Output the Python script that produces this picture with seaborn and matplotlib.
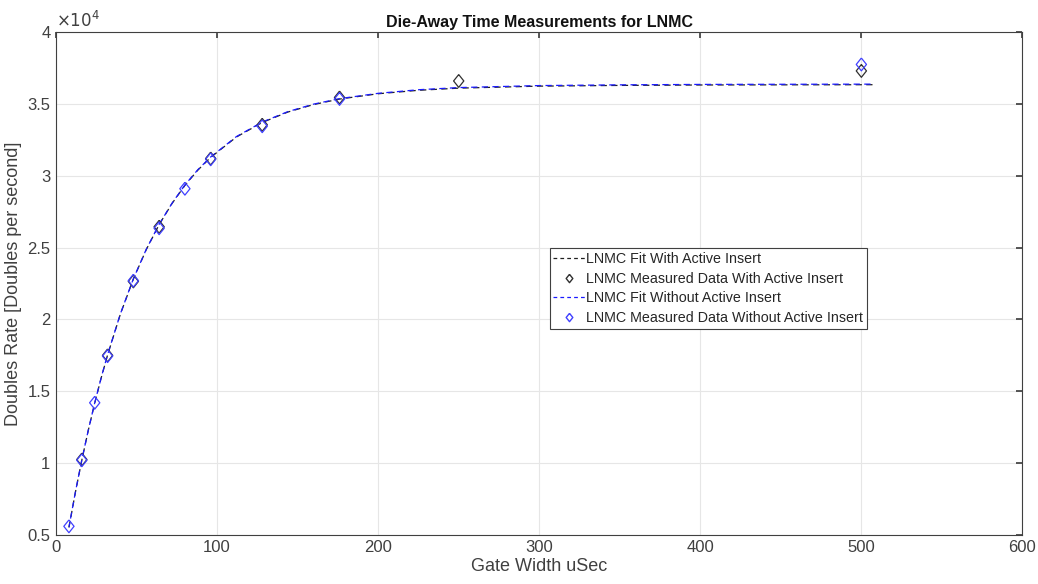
import numpy as np
import pandas as pd
import matplotlib
matplotlib.use('Agg')
import matplotlib.pyplot as plt
import seaborn as sns
from matplotlib.lines import Line2D
from matplotlib.ticker import FuncFormatter

# measured data, with active insert (black)
gate_with = [16, 32, 48, 64, 96, 128, 176, 250, 500]
rate_with = [10250, 17500, 22650, 26450, 31200, 33550, 35450, 36600, 37300]

# measured data, without active insert (blue)
gate_without = [8, 16, 24, 32, 48, 64, 80, 96, 128, 176, 500]
rate_without = [5600, 10200, 14200, 17450, 22700, 26350, 29100, 31150, 33450, 35350, 37750]

# fit curves
fit_gate = [8, 12, 16, 20, 24, 28, 32, 40, 48, 56, 64, 72, 80, 88, 96, 112,
            128, 144, 160, 176, 200, 225, 250, 300, 350, 400, 450, 507]
fit_with = [5520, 7960, 10210, 12270, 14170, 15920, 17530, 20390, 22810, 24860,
            26600, 28070, 29330, 30390, 31280, 32700, 33710, 34440, 34960, 35340,
            35710, 35950, 36100, 36240, 36290, 36320, 36330, 36340]
fit_without = [5540, 7980, 10230, 12290, 14190, 15940, 17550, 20410, 22830, 24880,
               26620, 28090, 29360, 30420, 31310, 32730, 33740, 34470, 34990, 35370,
               35740, 35990, 36140, 36280, 36330, 36360, 36370, 36380]

x_ticks = [0, 100, 200, 300, 400, 500, 600]
y_ticks = [5000, 10000, 15000, 20000, 25000, 30000, 35000, 40000]

sns.set_theme(style='whitegrid')
plt.rcParams['font.family'] = ['Liberation Sans', 'DejaVu Sans']

# matlab-ish diamond, a bit narrower than tall
diamond = [(0, 1), (0.8, 0), (0, -1), (-0.8, 0), (0, 1)]

fig = plt.figure(figsize=(10.38, 5.84), dpi=100)
ax = fig.add_axes([0.054, 0.084, 0.931, 0.861])

fits = pd.DataFrame({'gate': fit_gate, 'with': fit_with, 'without': fit_without})
sns.lineplot(data=fits, x='gate', y='with', ax=ax, color='#202020',
             linestyle=(0, (5, 3.5)), linewidth=0.9)
sns.lineplot(data=fits, x='gate', y='without', ax=ax, color='#1a1aff',
             linestyle=(1.5, (5, 3.5)), linewidth=0.9)

sns.scatterplot(x=gate_with, y=rate_with, ax=ax, marker=diamond, s=85,
                facecolors='none', edgecolors='#303030', linewidths=0.9, zorder=4)
sns.scatterplot(x=gate_without, y=rate_without, ax=ax, marker=diamond, s=85,
                facecolors='none', edgecolors='#4040ff', linewidths=0.9, zorder=4)

ax.set_xlim(0, 600)
ax.set_ylim(5000, 40000)
ax.set_xticks(x_ticks)
ax.set_yticks(y_ticks)
ax.yaxis.set_major_formatter(FuncFormatter(lambda v, p: '%g' % (v / 1e4)))
ax.tick_params(direction='in', length=4, colors='#404040', labelsize=12,
               top=True, right=True, pad=4)
ax.grid(True, color='#e6e6e6', linewidth=0.8)
for s in ax.spines.values():
    s.set_visible(True)
    s.set_color('#404040')
    s.set_linewidth(0.8)

ax.text(0.0, 1.005, r'$\times10^4$', transform=ax.transAxes, fontsize=12,
        color='#404040', ha='left', va='bottom')
ax.set_title('Die-Away Time Measurements for LNMC', fontsize=11.5,
             fontweight='bold', pad=4, color='#111111')
ax.set_xlabel('Gate Width uSec', fontsize=13, color='#404040', labelpad=2)
ax.set_ylabel('Doubles Rate [Doubles per second]', fontsize=13, color='#404040', labelpad=4)

handles = [
    Line2D([], [], color='#202020', linestyle=(0, (3, 2.5)), linewidth=0.9),
    Line2D([], [], color='#303030', marker=diamond, linestyle='none',
           markerfacecolor='none', markersize=6),
    Line2D([], [], color='#1a1aff', linestyle=(0, (3, 2.5)), linewidth=0.9),
    Line2D([], [], color='#4040ff', marker=diamond, linestyle='none',
           markerfacecolor='none', markersize=6),
]
labels = ['LNMC Fit With Active Insert',
          'LNMC Measured Data With Active Insert',
          'LNMC Fit Without Active Insert',
          'LNMC Measured Data Without Active Insert']
leg = ax.legend(handles, labels, loc='upper left', bbox_to_anchor=(0.511, 0.57),
                fontsize=10.3, frameon=True, fancybox=False, framealpha=1,
                edgecolor='#404040', handlelength=2.2, handletextpad=0.1,
                borderpad=0.25, borderaxespad=0, labelspacing=0.4)
leg.get_frame().set_linewidth(0.8)

fig.savefig('out.png', dpi=100)
